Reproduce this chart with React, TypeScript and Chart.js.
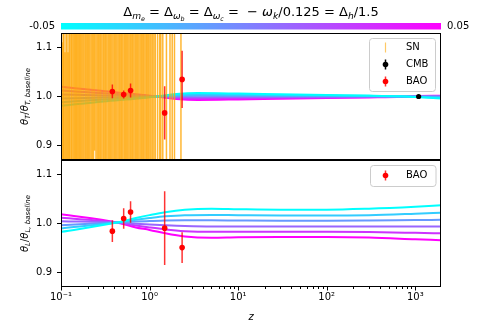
import React, { useEffect, useRef } from "react";
import { Chart, registerables } from "chart.js";
Chart.register(...registerables);

const FONT = '"DejaVu Sans", sans-serif';

const Z_MIN = 0.1;
const Z_MAX = 1950;
const Y_MIN = 0.871;
const Y_MAX = 1.129;
const Y_TICKS = [0.9, 1.0, 1.1];
const X_MAJOR = [0.1, 1, 10, 100, 1000];
const X_LABELS = ["10⁻¹", "10⁰", "10¹", "10²", "10³"];
const PARAMS = [-0.05, -0.03, -0.01, 0.01, 0.03, 0.05];
const CBAR_LABELS = ["-0.05", "0.05"];

// theta_T / theta_T,baseline model curves
const Z_T = [0.1, 0.3, 0.75, 1.2, 2, 3.5, 10, 30, 100, 300, 700, 1000, 2000];
const T_M005 = [0.981, 0.99, 0.996, 1.0, 1.005, 1.007, 1.006, 1.0045, 1.003, 1.0018, 1.0003, 0.999, 0.996];
const T_M003 = [0.9885, 0.994, 0.9976, 1.0, 1.003, 1.0042, 1.0036, 1.0027, 1.0018, 1.0011, 1.0002, 0.9994, 0.9976];
const T_M001 = [0.996, 0.998, 0.9992, 1.0, 1.001, 1.0014, 1.0012, 1.0009, 1.0006, 1.0004, 1.0001, 0.9998, 0.9992];
const T_P001 = [1.004, 1.002, 1.0008, 1.0, 0.999, 0.9986, 0.9988, 0.9991, 0.9994, 0.9996, 0.9999, 1.0002, 1.0004];
const T_P003 = [1.012, 1.0065, 1.0025, 1.0, 0.997, 0.9958, 0.9964, 0.9973, 0.9982, 0.9989, 0.9997, 1.0006, 1.001];
const T_P005 = [1.02, 1.011, 1.004, 1.0, 0.995, 0.993, 0.994, 0.9955, 0.997, 0.9982, 0.9995, 1.001, 1.0016];

// theta_L / theta_L,baseline model curves
const Z_L = [0.1, 0.43, 0.7, 1, 1.5, 2.5, 5, 10, 30, 100, 300, 1000, 2000];
const L_M005 = [0.983, 1.002, 1.011, 1.017, 1.023, 1.028, 1.03, 1.029, 1.028, 1.028, 1.03, 1.034, 1.037];
const L_M003 = [0.99, 1.002, 1.0075, 1.011, 1.0145, 1.017, 1.0175, 1.0168, 1.016, 1.016, 1.017, 1.02, 1.022];
const L_M001 = [0.9965, 1.002, 1.004, 1.005, 1.006, 1.0065, 1.0065, 1.006, 1.0055, 1.0055, 1.006, 1.007, 1.0075];
const L_P001 = [1.0045, 1.002, 0.9995, 0.998, 0.9965, 0.995, 0.994, 0.994, 0.994, 0.994, 0.994, 0.994, 0.994];
const L_P003 = [1.0115, 1.002, 0.996, 0.992, 0.988, 0.9845, 0.983, 0.983, 0.983, 0.983, 0.9825, 0.981, 0.98];
const L_P005 = [1.019, 1.002, 0.992, 0.987, 0.98, 0.9735, 0.971, 0.972, 0.9725, 0.9725, 0.9715, 0.968, 0.966];

// Supernovae
const SN_Z = [
  0.101, 0.103, 0.106, 0.108, 0.111, 0.114, 0.117, 0.12, 0.123, 0.126,
  0.13, 0.133, 0.137, 0.141, 0.145, 0.149, 0.153, 0.158, 0.162, 0.167,
  0.172, 0.177, 0.182, 0.188, 0.194, 0.2, 0.206, 0.212, 0.219, 0.226,
  0.233, 0.24, 0.248, 0.256, 0.264, 0.272, 0.281, 0.29, 0.3, 0.31,
  0.32, 0.33, 0.341, 0.352, 0.363, 0.375, 0.387, 0.4, 0.413, 0.427,
  0.441, 0.455, 0.47, 0.485, 0.5, 0.517, 0.533, 0.55, 0.568, 0.586,
  0.605, 0.625, 0.645, 0.666, 0.688, 0.71, 0.733, 0.757, 0.782, 0.807,
  0.833, 0.86, 0.888, 0.917, 0.946, 0.977, 1.01, 1.04, 1.08, 1.12,
  1.16, 1.23, 1.3, 1.34, 1.41, 1.55, 1.7, 1.8, 1.91, 2.26,
];
const SN_V = [
  1.02, 0.97, 1.05, 0.99, 0.94, 1.03, 1.01, 0.96, 1.06, 0.98,
  1.0, 1.04, 0.95, 1.02, 0.99, 1.07, 0.97, 1.01, 0.93, 1.03,
  1.0, 0.98, 1.05, 0.96, 1.02, 1.01, 0.94, 1.04, 0.99, 1.03,
  0.97, 1.06, 1.0, 0.95, 1.02, 0.98, 1.04, 1.01, 0.96, 1.03,
  0.99, 1.05, 0.97, 1.02, 0.94, 1.0, 1.06, 0.98, 1.03, 0.96,
  1.01, 1.04, 0.99, 0.95, 1.02, 1.07, 0.97, 1.0, 1.03, 0.98,
  1.05, 0.96, 1.01, 1.04, 0.99, 0.93, 1.02, 1.06, 0.97, 1.0,
  1.03, 0.95, 1.01, 1.05, 0.98, 1.02, 0.96, 1.04, 1.0, 0.99,
  1.03, 0.97, 1.06, 0.98, 1.02, 0.95, 1.04, 1.01, 0.99, 1.03,
];
const SN_E = [
  0.18, 0.14, 0.22, 0.26, 0.15, 0.2, 0.3, 0.13, 0.24, 0.19,
  0.17, 0.23, 0.28, 0.16, 0.21, 0.25, 0.18, 0.32, 0.2, 0.16,
  0.27, 0.19, 0.22, 0.17, 0.3, 0.21, 0.24, 0.18, 0.26, 0.2,
  0.23, 0.17, 0.31, 0.25, 0.19, 0.22, 0.28, 0.2, 0.24, 0.18,
  0.29, 0.21, 0.23, 0.26, 0.22, 0.33, 0.2, 0.25, 0.21, 0.27,
  0.24, 0.22, 0.3, 0.26, 0.23, 0.28, 0.25, 0.34, 0.22, 0.29,
  0.26, 0.31, 0.24, 0.23, 0.35, 0.28, 0.27, 0.25, 0.32, 0.3,
  0.29, 0.34, 0.28, 0.26, 0.37, 0.31, 0.33, 0.29, 0.35, 0.32,
  0.34, 0.3, 0.38, 0.36, 0.33, 0.4, 0.35, 0.37, 0.39, 0.42,
];

// CMB
const CMB_Z = [1090];
const CMB_V = [1.0];
const CMB_E = [0.0006];

// BAO
const BAO_Z = [0.38, 0.51, 0.61, 1.48, 2.33];
const BAO_T_V = [1.0102, 1.004, 1.0122, 0.9667, 1.0347];
const BAO_T_E = [0.014, 0.008, 0.014, 0.054, 0.058];
const BAO_L_V = [0.9845, 1.0102, 1.0233, 0.9906, 0.951];
const BAO_L_E = [0.022, 0.021, 0.022, 0.075, 0.031];

const T_LINES = [T_M005, T_M003, T_M001, T_P001, T_P003, T_P005];
const L_LINES = [L_M005, L_M003, L_M001, L_P001, L_P003, L_P005];

// canvas geometry (top panel canvas / bottom panel canvas)
const TOP_H = 165;
const BOT_TOP = 155;
const BOT_H = 172;
const EDGE_PAD = 5;

function cool(p: number) {
  const t = (p - PARAMS[0]) / (PARAMS[PARAMS.length - 1] - PARAMS[0]);
  return `rgb(${Math.round(255 * t)},${Math.round(255 * (1 - t))},255)`;
}

function lineSets(zs: number[], lines: number[][]) {
  return lines.map((vals, k) => ({
    type: "line",
    data: zs.map((z, i) => ({ x: z, y: vals[i] })),
    borderColor: cool(PARAMS[k]),
    borderWidth: 2,
    pointRadius: 0,
    cubicInterpolationMode: "monotone",
    fill: false,
    order: 10,
  }));
}

function errSet(zs: number[], vs: number[], es: number[], color: string, width: number, order: number) {
  const data: any[] = [];
  zs.forEach((z, i) => {
    data.push({ x: z, y: vs[i] - es[i] }, { x: z, y: vs[i] + es[i] }, { x: z, y: null });
  });
  return { type: "line", data, borderColor: color, borderWidth: width, pointRadius: 0, spanGaps: false, fill: false, order };
}

function snSets() {
  return SN_Z.map((z, i) => ({
    type: "line",
    data: [
      { x: z, y: SN_V[i] - SN_E[i] },
      { x: z, y: SN_V[i] + SN_E[i] },
    ],
    borderColor: "rgba(255,165,0,0.8)",
    borderWidth: 1.5,
    pointRadius: 0,
    fill: false,
    order: 5,
  }));
}

function dotSet(zs: number[], vs: number[], color: string, r: number, order: number) {
  return {
    type: "line",
    showLine: false,
    data: zs.map((z, i) => ({ x: z, y: vs[i] })),
    pointRadius: r,
    pointBackgroundColor: color,
    pointBorderWidth: 0,
    borderColor: color,
    order,
  };
}

type Run = { t: string; l: number; it?: boolean };
function runFont(r: Run, base: number) {
  const s = base * Math.pow(0.7, r.l);
  return `${r.it ? "italic " : ""}${s}px ${FONT}`;
}
function measureRuns(ctx: CanvasRenderingContext2D, runs: Run[], base: number) {
  let w = 0;
  for (const r of runs) {
    ctx.font = runFont(r, base);
    w += ctx.measureText(r.t).width;
  }
  return w;
}
function drawRuns(ctx: CanvasRenderingContext2D, runs: Run[], base: number, x: number, y: number) {
  let cx = x;
  ctx.textBaseline = "alphabetic";
  ctx.textAlign = "left";
  for (const r of runs) {
    ctx.font = runFont(r, base);
    const dy = r.l === 0 ? 0 : r.l === 1 ? base * 0.22 : base * 0.38;
    ctx.fillText(r.t, cx, y + dy);
    cx += ctx.measureText(r.t).width;
  }
}

function drawYTitle(ctx: CanvasRenderingContext2D, runs: Run[], x: number, cy: number) {
  ctx.save();
  ctx.fillStyle = "#000";
  const w = measureRuns(ctx, runs, 10);
  ctx.translate(x, cy);
  ctx.rotate(-Math.PI / 2);
  drawRuns(ctx, runs, 10, -w / 2, 0);
  ctx.restore();
}

function drawFrame(ctx: CanvasRenderingContext2D, ca: any) {
  ctx.save();
  ctx.strokeStyle = "#000";
  ctx.lineWidth = 1;
  ctx.strokeRect(Math.round(ca.left) + 0.5, Math.round(ca.top) + 0.5, Math.round(ca.right - ca.left) - 1, Math.round(ca.bottom - ca.top) - 1);
  ctx.restore();
}

type LegItem = { label: string; bar: string; dot?: string; y: number };
function drawLegend(ctx: CanvasRenderingContext2D, x: number, y: number, w: number, h: number, items: LegItem[], mx: number, tx: number) {
  ctx.save();
  const r = 3;
  ctx.beginPath();
  ctx.moveTo(x + r, y);
  ctx.lineTo(x + w - r, y);
  ctx.arcTo(x + w, y, x + w, y + r, r);
  ctx.lineTo(x + w, y + h - r);
  ctx.arcTo(x + w, y + h, x + w - r, y + h, r);
  ctx.lineTo(x + r, y + h);
  ctx.arcTo(x, y + h, x, y + h - r, r);
  ctx.lineTo(x, y + r);
  ctx.arcTo(x, y, x + r, y, r);
  ctx.closePath();
  ctx.fillStyle = "rgba(255,255,255,0.8)";
  ctx.fill();
  ctx.strokeStyle = "#cccccc";
  ctx.lineWidth = 1;
  ctx.stroke();
  for (const it of items) {
    ctx.strokeStyle = it.bar;
    ctx.lineWidth = it.dot ? 1.5 : 1.2;
    ctx.beginPath();
    ctx.moveTo(mx, it.y - 5);
    ctx.lineTo(mx, it.y + 5);
    ctx.stroke();
    if (it.dot) {
      ctx.fillStyle = it.dot;
      ctx.beginPath();
      ctx.arc(mx, it.y, 2.8, 0, Math.PI * 2);
      ctx.fill();
    }
    ctx.fillStyle = "#000";
    ctx.font = `10px ${FONT}`;
    ctx.textAlign = "left";
    ctx.textBaseline = "middle";
    ctx.fillText(it.label, tx, it.y);
  }
  ctx.restore();
}

const TITLE_RUNS: Run[] = [
  { t: "Δ", l: 0 }, { t: "m", l: 1, it: true }, { t: "e", l: 2, it: true },
  { t: " = Δ", l: 0 }, { t: "ω", l: 1, it: true }, { t: "b", l: 2, it: true },
  { t: " = Δ", l: 0 }, { t: "ω", l: 1, it: true }, { t: "c", l: 2, it: true },
  { t: " =  − ", l: 0 }, { t: "ω", l: 0, it: true }, { t: "k", l: 1, it: true },
  { t: "/0.125 = Δ", l: 0 }, { t: "h", l: 1, it: true }, { t: "/1.5", l: 0 },
];
const YT_RUNS: Run[] = [
  { t: "θ", l: 0, it: true }, { t: "T", l: 1, it: true }, { t: "/", l: 0 },
  { t: "θ", l: 0, it: true }, { t: "T, baseline", l: 1, it: true },
];
const YL_RUNS: Run[] = [
  { t: "θ", l: 0, it: true }, { t: "L", l: 1, it: true }, { t: "/", l: 0 },
  { t: "θ", l: 0, it: true }, { t: "L, baseline", l: 1, it: true },
];

function noPad(s: any) {
  s.paddingTop = 0;
  s.paddingBottom = 0;
  s.paddingLeft = 0;
  s.paddingRight = 0;
}

function yScale() {
  return {
    type: "linear",
    min: Y_MIN,
    max: Y_MAX,
    afterFit: (s: any) => { s.width = 61; noPad(s); },
    afterBuildTicks: (s: any) => { s.ticks = Y_TICKS.map((v) => ({ value: v })); },
    ticks: {
      callback: (v: any) => Number(v).toFixed(1),
      font: { family: FONT, size: 10 },
      color: "#000",
      padding: 5,
      autoSkip: false,
    },
    grid: { display: true, drawOnChartArea: false, drawTicks: true, tickLength: 4, color: "#000", tickColor: "#000", lineWidth: 1 },
    border: { display: false },
  };
}

export default function App() {
  const topRef = useRef<HTMLCanvasElement>(null);
  const botRef = useRef<HTMLCanvasElement>(null);

  useEffect(() => {
    const topPlugin = {
      id: "topDeco",
      afterDraw(chart: any) {
        const ctx: CanvasRenderingContext2D = chart.ctx;
        const ca = chart.chartArea;
        drawFrame(ctx, ca);
        ctx.save();
        ctx.fillStyle = "#000";
        const tw = measureRuns(ctx, TITLE_RUNS, 13);
        drawRuns(ctx, TITLE_RUNS, 13, (ca.left + ca.right) / 2 - tw / 2, 16);
        const g = ctx.createLinearGradient(ca.left, 0, ca.right, 0);
        g.addColorStop(0, cool(PARAMS[0]));
        g.addColorStop(1, cool(PARAMS[PARAMS.length - 1]));
        ctx.fillStyle = g;
        ctx.fillRect(ca.left, 23, ca.right - ca.left, 6.5);
        ctx.fillStyle = "#000";
        ctx.font = `10px ${FONT}`;
        ctx.textBaseline = "middle";
        ctx.textAlign = "right";
        ctx.fillText(CBAR_LABELS[0], ca.left - 6, 26);
        ctx.textAlign = "left";
        ctx.fillText(CBAR_LABELS[1], ca.right + 6, 26);
        ctx.restore();
        drawYTitle(ctx, YT_RUNS, 28, (ca.top + ca.bottom) / 2);
        drawLegend(ctx, 369.5, 38.5, 66, 53, [
          { label: "SN", bar: "rgba(255,165,0,0.6)", y: 47.5 },
          { label: "CMB", bar: "#000", dot: "#000", y: 64.5 },
          { label: "BAO", bar: "rgba(255,0,0,0.8)", dot: "#ff0000", y: 81.5 },
        ], 385.5, 406);
      },
    };

    const botPlugin = {
      id: "botDeco",
      afterDraw(chart: any) {
        const ctx: CanvasRenderingContext2D = chart.ctx;
        const ca = chart.chartArea;
        const xs = chart.scales.x;
        drawFrame(ctx, ca);
        ctx.save();
        ctx.strokeStyle = "#000";
        ctx.lineWidth = 1;
        for (let d = -1; d <= 3; d++) {
          for (let k = 1; k <= 9; k++) {
            const v = k * Math.pow(10, d);
            if (v < Z_MIN * 0.999 || v > Z_MAX) continue;
            const px = Math.round(xs.getPixelForValue(v)) + 0.5;
            const len = k === 1 ? 3.5 : 2;
            ctx.beginPath();
            ctx.moveTo(px, ca.bottom);
            ctx.lineTo(px, ca.bottom + len);
            ctx.stroke();
          }
        }
        ctx.fillStyle = "#000";
        ctx.font = `italic 10px ${FONT}`;
        ctx.textAlign = "center";
        ctx.textBaseline = "middle";
        ctx.fillText("z", (ca.left + ca.right) / 2, ca.bottom + 30);
        ctx.restore();
        drawYTitle(ctx, YL_RUNS, 28, (ca.top + ca.bottom) / 2);
        drawLegend(ctx, 370.5, ca.top + 5.5, 65.5, 21, [
          { label: "BAO", bar: "rgba(255,0,0,0.8)", dot: "#ff0000", y: ca.top + 15.5 },
        ], 385.5, 406);
      },
    };

    const common = {
      responsive: false,
      maintainAspectRatio: false,
      animation: false,
      devicePixelRatio: 1,
      events: [],
      plugins: { legend: { display: false }, tooltip: { enabled: false }, title: { display: false } },
    };

    const topChart = new Chart(topRef.current as HTMLCanvasElement, {
      type: "line",
      data: {
        datasets: [
          ...lineSets(Z_T, T_LINES),
          ...snSets(),
          errSet(BAO_Z, BAO_T_V, BAO_T_E, "rgba(255,0,0,0.8)", 1.5, 2),
          dotSet(BAO_Z, BAO_T_V, "#ff0000", 2.8, 1),
          errSet(CMB_Z, CMB_V, CMB_E, "#000", 1.5, 0),
          dotSet(CMB_Z, CMB_V, "#000", 2.6, 0),
        ] as any,
      },
      options: {
        ...common,
        layout: { padding: { top: 33, right: 50, bottom: EDGE_PAD, left: 0 } },
        scales: {
          x: { type: "logarithmic", min: Z_MIN, max: Z_MAX, display: false },
          y: yScale(),
        },
      } as any,
      plugins: [topPlugin],
    });

    const botChart = new Chart(botRef.current as HTMLCanvasElement, {
      type: "line",
      data: {
        datasets: [
          ...lineSets(Z_L, L_LINES),
          errSet(BAO_Z, BAO_L_V, BAO_L_E, "rgba(255,0,0,0.8)", 1.5, 2),
          dotSet(BAO_Z, BAO_L_V, "#ff0000", 2.8, 1),
        ] as any,
      },
      options: {
        ...common,
        layout: { padding: { top: EDGE_PAD, right: 50, bottom: 0, left: 0 } },
        scales: {
          x: {
            type: "logarithmic",
            min: Z_MIN,
            max: Z_MAX,
            afterFit: (s: any) => { s.height = 40; noPad(s); },
            afterBuildTicks: (s: any) => { s.ticks = X_MAJOR.map((v) => ({ value: v, major: true })); },
            ticks: {
              callback: (v: any) => {
                const i = X_MAJOR.findIndex((m) => Math.abs(Math.log10(m) - Math.log10(Number(v))) < 1e-6);
                return i >= 0 ? X_LABELS[i] : "";
              },
              font: { family: FONT, size: 10 },
              color: "#000",
              padding: 4,
              autoSkip: false,
              maxRotation: 0,
              minRotation: 0,
            },
            grid: { display: false, drawTicks: false },
            border: { display: false },
          },
          y: yScale(),
        },
      } as any,
      plugins: [botPlugin],
    });

    return () => {
      topChart.destroy();
      botChart.destroy();
    };
  }, []);

  return (
    <div style={{ position: "fixed", left: 0, top: 0, width: 491, height: 327, background: "#fff" }}>
      <canvas ref={botRef} width={491} height={BOT_H} style={{ position: "absolute", left: 0, top: BOT_TOP, width: 491, height: BOT_H }} />
      <canvas ref={topRef} width={491} height={TOP_H} style={{ position: "absolute", left: 0, top: 0, width: 491, height: TOP_H }} />
    </div>
  );
}
